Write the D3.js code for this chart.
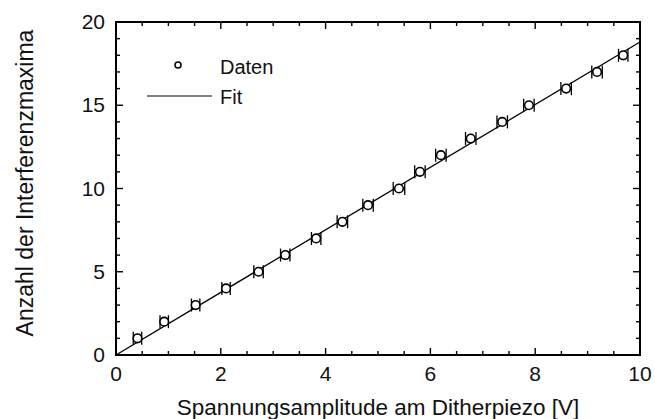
<!DOCTYPE html>
<html>
<head>
<meta charset="utf-8">
<script src="https://cdn.jsdelivr.net/npm/d3@7"></script>
<style>
  body { margin: 0; background: #fff; }
  text { font-family: "Liberation Sans", Arial, sans-serif; fill: #111; }
</style>
</head>
<body>
<div id="chart"></div>
<script>
// data
let voltage = [0.41, 0.92, 1.52, 2.10, 2.72, 3.23, 3.82, 4.32, 4.81, 5.40, 5.80, 6.20, 6.77, 7.37, 7.88, 8.59, 9.18, 9.68];
let maxima = [1, 2, 3, 4, 5, 6, 7, 8, 9, 10, 11, 12, 13, 14, 15, 16, 17, 18];
let voltageErr = [0.08, 0.08, 0.08, 0.08, 0.09, 0.09, 0.09, 0.1, 0.1, 0.11, 0.1, 0.1, 0.1, 0.1, 0.1, 0.1, 0.1, 0.09];
let fitX = [0, 10];
let fitY = [0, 18.8];
let xTicks = [0, 2, 4, 6, 8, 10];
let yTicks = [0, 5, 10, 15, 20];
let legendLabels = ["Daten", "Fit"];

let width = 655, height = 419;
let margin = { top: 22, right: 15, bottom: 64, left: 116 };
let w = width - margin.left - margin.right,
  h = height - margin.top - margin.bottom;

let x = d3.scaleLinear().domain([0, 10]).range([0, w]),
  y = d3.scaleLinear().domain([0, 20]).range([h, 0]);

const svg = d3.select("#chart").append("svg")
  .attr("width", width)
  .attr("height", height);

const g = svg.append("g")
  .attr("transform", "translate(" + margin.left + "," + margin.top + ")");

// frame
g.append("rect")
  .attr("width", w).attr("height", h)
  .attr("fill", "none").attr("stroke", "#000").attr("stroke-width", 2);

// inward ticks on all four sides
let xMinor = d3.range(0, 10.01, 0.5), yMinor = d3.range(0, 20.01, 1);
let tickLen = (v, major) => major.includes(v) ? 7 : 4;

g.selectAll(".xt").data(xMinor).join("line")
  .attr("x1", d => x(d)).attr("x2", d => x(d))
  .attr("y1", h).attr("y2", d => h - tickLen(d, xTicks))
  .attr("stroke", "#000").attr("stroke-width", 1.4);
g.selectAll(".xtt").data(xMinor).join("line")
  .attr("x1", d => x(d)).attr("x2", d => x(d))
  .attr("y1", 0).attr("y2", d => tickLen(d, xTicks))
  .attr("stroke", "#000").attr("stroke-width", 1.4);
g.selectAll(".yt").data(yMinor).join("line")
  .attr("y1", d => y(d)).attr("y2", d => y(d))
  .attr("x1", 0).attr("x2", d => tickLen(d, yTicks))
  .attr("stroke", "#000").attr("stroke-width", 1.4);
g.selectAll(".ytr").data(yMinor).join("line")
  .attr("y1", d => y(d)).attr("y2", d => y(d))
  .attr("x1", w).attr("x2", d => w - tickLen(d, yTicks))
  .attr("stroke", "#000").attr("stroke-width", 1.4);

// tick labels
g.selectAll(".xl").data(xTicks).join("text")
  .attr("x", d => x(d)).attr("y", h + 26)
  .attr("text-anchor", "middle")
  .style("font-size", "21px")
  .text(d => d);
g.selectAll(".yl").data(yTicks).join("text")
  .attr("x", -11).attr("y", d => y(d) + 7)
  .attr("text-anchor", "end")
  .style("font-size", "21px")
  .text(d => d);

// axis titles
g.append("text")
  .attr("x", w / 2).attr("y", h + 60)
  .attr("text-anchor", "middle")
  .style("font-size", "22.5px")
  .text("Spannungsamplitude am Ditherpiezo [V]");
g.append("text")
  .attr("transform", "rotate(-90)")
  .attr("x", -161).attr("y", -83)
  .attr("text-anchor", "middle")
  .style("font-size", "23px")
  .text("Anzahl der Interferenzmaxima");

// fit line
g.append("line")
  .attr("x1", x(fitX[0])).attr("y1", y(fitY[0]))
  .attr("x2", x(fitX[1])).attr("y2", y(fitY[1]))
  .attr("stroke", "#000").attr("stroke-width", 1.3);

// data with horizontal error bars
let pts = voltage.map((v, i) => ({ v: v, n: maxima[i], e: voltageErr[i] }));
const dots = g.selectAll(".pt").data(pts).join("g");
dots.append("line")
  .attr("x1", d => x(d.v - d.e)).attr("x2", d => x(d.v + d.e))
  .attr("y1", d => y(d.n)).attr("y2", d => y(d.n))
  .attr("stroke", "#000").attr("stroke-width", 1.2);
dots.each(function (d) {
  let s = d3.select(this);
  [d.v - d.e, d.v + d.e].forEach(xv => {
    s.append("line")
      .attr("x1", x(xv)).attr("x2", x(xv))
      .attr("y1", y(d.n) - 6.5).attr("y2", y(d.n) + 6.5)
      .attr("stroke", "#000").attr("stroke-width", 1.3);
  });
});
dots.append("circle")
  .attr("cx", d => x(d.v)).attr("cy", d => y(d.n))
  .attr("r", 4.3)
  .attr("fill", "#fff").attr("stroke", "#000").attr("stroke-width", 1.6);

// legend
g.append("circle")
  .attr("cx", 62).attr("cy", 43).attr("r", 3)
  .attr("fill", "#fff").attr("stroke", "#000").attr("stroke-width", 1.5);
g.append("line")
  .attr("x1", 31).attr("x2", 96).attr("y1", 74).attr("y2", 74)
  .attr("stroke", "#000").attr("stroke-width", 1.2);
g.selectAll(".lg").data(legendLabels).join("text")
  .attr("x", 104).attr("y", (d, i) => 52 + i * 30)
  .style("font-size", "20px")
  .text(d => d);
</script>
</body>
</html>
